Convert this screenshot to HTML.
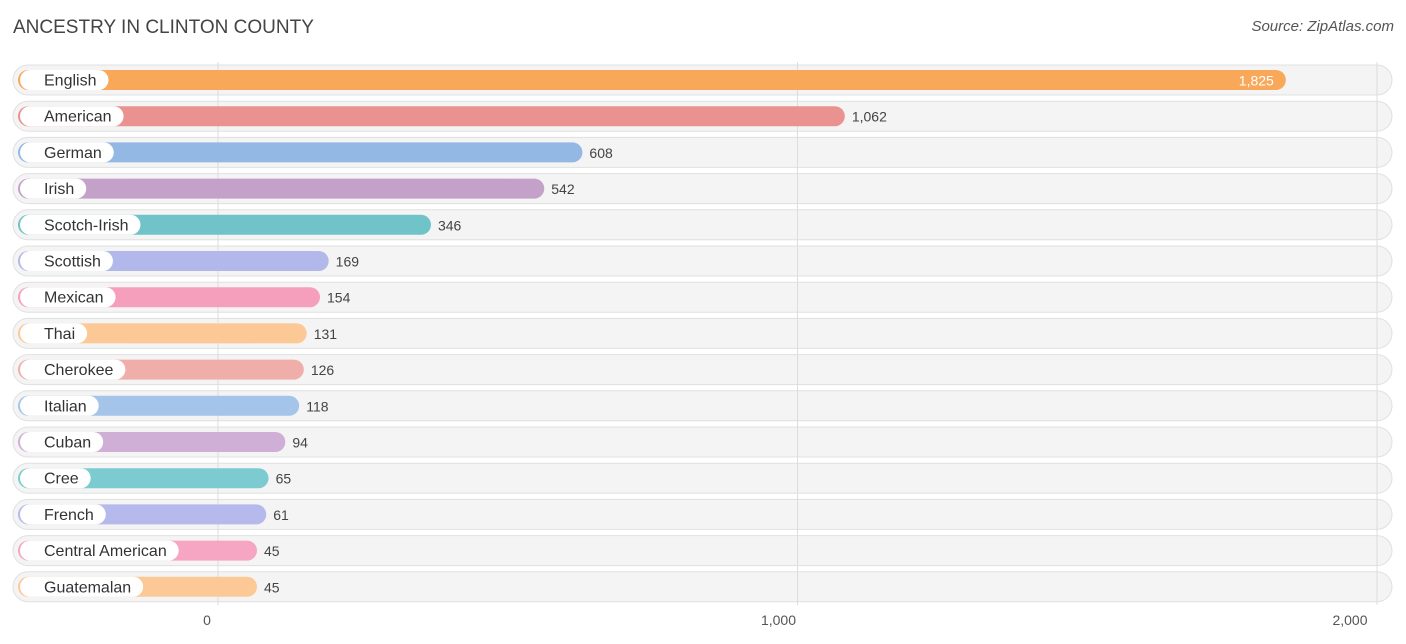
<!DOCTYPE html>
<html><head><meta charset="utf-8"><style>
body{margin:0;background:#fff;font-family:"Liberation Sans",sans-serif;}
#wrap{position:relative;width:1406px;height:644px;overflow:hidden;}
.title{position:absolute;left:13px;top:17px;font-size:19px;color:#444;}
.src{position:absolute;right:12px;top:18px;font-size:15px;color:#555;font-style:italic;}
</style></head><body>
<div id="wrap">
<div class="title">ANCESTRY IN CLINTON COUNTY</div>
<div class="src">Source: ZipAtlas.com</div>
<svg id="svg" width="1406" height="644" style="position:absolute;left:0;top:0"></svg>
</div>
<script>
const categories=["English","American","German","Irish","Scotch-Irish","Scottish","Mexican","Thai","Cherokee","Italian","Cuban","Cree","French","Central American","Guatemalan"];
const values=[1825,1062,608,542,346,169,154,131,126,118,94,65,61,45,45];
const colors=["#f9a85a","#ea928f","#93b8e3","#c3a1c9","#6fc3c9","#b3b8ea","#f59fbc","#fcc896","#f0aeab","#a5c4ea","#cfafd6","#7ccbd0","#b5b9ec","#f6a6c3","#fcc896"];
const ticks=[0,1000,2000];
const tickLabels=["0","1,000","2,000"];
const NS="http://www.w3.org/2000/svg";
const svg=document.getElementById('svg');
const x=v=>231+0.578*v;
const gx=v=>218+0.5795*v;
const y=i=>80+i*36.2;
function mk(t,a){const e=document.createElementNS(NS,t);for(const k in a)e.setAttribute(k,a[k]);svg.appendChild(e);return e;}
categories.forEach((c,i)=>{
  const r=mk('rect',{x:13,y:y(i)-15,width:1379,height:30,rx:15,fill:'#f4f4f4',stroke:'#e0e0e0'});
  
  
});
ticks.forEach((t,i)=>{
  const l=mk('line',{x1:gx(t),x2:gx(t),y1:62,y2:605,stroke:'#ddd'});
  
  
  const tx=mk('text',{x:gx(t)-11-t*0.008,y:625,'text-anchor':'middle','font-size':14,fill:'#555'});
  tx.textContent=tickLabels[i];
  
  
});
categories.forEach((c,i)=>{
  const cy=y(i);
  const b=mk('rect',{x:18,y:cy-10,width:x(values[i])-18,height:20,rx:10,fill:colors[i]});
  
  
  const p=mk('rect',{x:20,y:cy-10,width:40,height:20,rx:10,fill:'#fff'});
  
  
  const t=mk('text',{x:44,y:cy+5.5,'font-size':16,fill:'#333'});
  t.textContent=c;
  
  
  p.setAttribute('width',t.getComputedTextLength()+36);
  const inside=i===0;
  const v=mk('text',{x:inside?x(values[i])-12:x(values[i])+7,y:cy+5.5,'font-size':14,fill:inside?'#fff':'#444','text-anchor':inside?'end':'start'});
  v.textContent=values[i].toLocaleString('en-US');
  
  
});
</script>
</body></html>
